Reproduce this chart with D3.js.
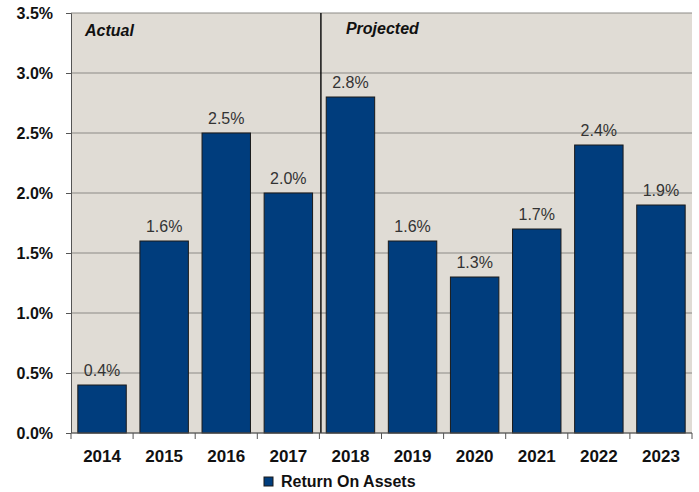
<!DOCTYPE html>
<html>
<head>
<meta charset="utf-8">
<script src="https://cdn.jsdelivr.net/npm/d3@7"></script>
<style>
  html, body { margin: 0; padding: 0; background: #fff; overflow: hidden; }
  svg { display: block; }
  text { font-family: "Liberation Sans", Arial, sans-serif; }
</style>
</head>
<body>
<svg id="chart" width="699" height="492"></svg>
<script>
const years = ["2014", "2015", "2016", "2017", "2018", "2019", "2020", "2021", "2022", "2023"];
const roa = [0.4, 1.6, 2.5, 2.0, 2.8, 1.6, 1.3, 1.7, 2.4, 1.9];
const yTicks = [0, 0.5, 1.0, 1.5, 2.0, 2.5, 3.0, 3.5];
const seriesName = "Return On Assets";

const margin = { left: 71, right: 7, top: 13, bottom: 59 };
const svg = d3.select("#chart");
const width = +svg.attr("width");
const height = +svg.attr("height");
const innerWidth = width - margin.left - margin.right;
const innerHeight = height - margin.top - margin.bottom;

const g = svg.append("g")
    .attr("transform", `translate(${margin.left},${margin.top})`);

const xScale = d3.scaleBand()
    .domain(years)
    .range([0, innerWidth])
    .paddingInner(0.22)
    .paddingOuter(0.11);

const yScale = d3.scaleLinear()
    .domain([0, 3.5])
    .range([innerHeight, 0]);

// plot background
g.append("rect")
    .attr("width", innerWidth)
    .attr("height", innerHeight)
    .attr("fill", "#e0dcd5");

// gridlines
g.selectAll(".grid").data(yTicks)
  .enter().append("line")
    .attr("x1", 0)
    .attr("x2", innerWidth)
    .attr("y1", d => yScale(d))
    .attr("y2", d => yScale(d))
    .attr("stroke", "#8c8a86")
    .attr("stroke-width", 1);

// bars
g.selectAll(".bar").data(roa)
  .enter().append("rect")
    .attr("x", (d, i) => xScale(years[i]))
    .attr("y", d => yScale(d))
    .attr("width", xScale.bandwidth())
    .attr("height", d => innerHeight - yScale(d))
    .attr("fill", "#003d7d")
    .attr("stroke", "#1a1a1a")
    .attr("stroke-width", 1);

// value labels
g.selectAll(".val").data(roa)
  .enter().append("text")
    .attr("x", (d, i) => xScale(years[i]) + xScale.bandwidth() / 2)
    .attr("y", d => yScale(d) - 9)
    .attr("text-anchor", "middle")
    .attr("font-size", 16)
    .attr("fill", "#333")
    .text(d => d.toFixed(1) + "%");

// divider between actual and projected
const step = xScale.step();
const divX = xScale("2018") - xScale.paddingInner() * step / 2 + 1.5;
g.append("line")
    .attr("x1", divX).attr("x2", divX)
    .attr("y1", 0).attr("y2", innerHeight)
    .attr("stroke", "#111")
    .attr("stroke-width", 1.5);

g.append("text")
    .attr("x", 14).attr("y", 22.5)
    .attr("font-size", 16).attr("font-weight", "bold").attr("font-style", "italic")
    .attr("fill", "#111")
    .text("Actual");
g.append("text")
    .attr("x", divX + 25).attr("y", 21)
    .attr("font-size", 16).attr("font-weight", "bold").attr("font-style", "italic")
    .attr("fill", "#111")
    .text("Projected");

// y axis
const yAxis = d3.axisLeft(yScale)
    .tickValues(yTicks)
    .tickSize(5)
    .tickPadding(13)
    .tickFormat(d => d.toFixed(1) + "%");
const yAxisG = g.append("g").call(yAxis);
yAxisG.select(".domain").attr("stroke", "#555").attr("d", `M-5,0.5H0.5V${innerHeight}`);
yAxisG.selectAll(".tick line").attr("stroke", "#555");
yAxisG.selectAll("text")
    .attr("font-size", 16).attr("font-weight", "bold").attr("fill", "#111")
    .style("font-family", "'Liberation Sans', Arial, sans-serif");

// x axis: ticks at band boundaries
const xAxisG = g.append("g").attr("transform", `translate(0,${innerHeight})`);
xAxisG.append("line")
    .attr("x1", 0).attr("x2", innerWidth)
    .attr("stroke", "#555");
const boundaries = d3.range(years.length + 1).map(i => i * innerWidth / years.length);
xAxisG.selectAll(".xt").data(boundaries)
  .enter().append("line")
    .attr("x1", d => d).attr("x2", d => d)
    .attr("y1", 0).attr("y2", 6)
    .attr("stroke", "#555");
xAxisG.selectAll(".xl").data(years)
  .enter().append("text")
    .attr("x", d => xScale(d) + xScale.bandwidth() / 2)
    .attr("y", 29)
    .attr("text-anchor", "middle")
    .attr("font-size", 17).attr("font-weight", "bold").attr("fill", "#111")
    .text(d => d);

// legend
const legend = svg.append("g").attr("transform", "translate(264,477)");
legend.append("rect")
    .attr("width", 9).attr("height", 9)
    .attr("fill", "#003d7d").attr("stroke", "#1a1a1a");
legend.append("text")
    .attr("x", 17).attr("y", 10)
    .attr("font-size", 16).attr("font-weight", "bold").attr("fill", "#111")
    .text(seriesName);
</script>
</body>
</html>
